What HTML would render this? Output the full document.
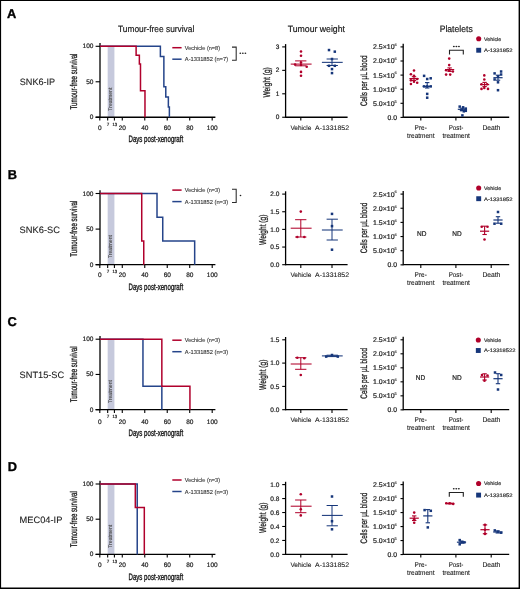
<!DOCTYPE html>
<html><head><meta charset="utf-8"><title>Figure</title>
<style>html,body{margin:0;padding:0;background:#fff;width:520px;height:589px;overflow:hidden}
svg{will-change:transform} svg text{font-family:"Liberation Sans", sans-serif}</style></head>
<body>
<svg width="520" height="589" viewBox="0 0 520 589" style="display:block;font-family:'Liberation Sans', sans-serif" text-rendering="geometricPrecision">
<rect x="0" y="0" width="520" height="589" fill="#fff"/>
<text x="118.00" y="32.30" font-size="9.2" text-anchor="start" font-weight="normal" fill="#1a1a1a" stroke="#1a1a1a" stroke-width="0.2" textLength="76.30" lengthAdjust="spacingAndGlyphs" >Tumour-free survival</text>
<text x="287.70" y="32.40" font-size="9.2" text-anchor="start" font-weight="normal" fill="#1a1a1a" stroke="#1a1a1a" stroke-width="0.2" textLength="57.30" lengthAdjust="spacingAndGlyphs" >Tumour weight</text>
<text x="439.70" y="32.20" font-size="9.2" text-anchor="start" font-weight="normal" fill="#1a1a1a" stroke="#1a1a1a" stroke-width="0.2" textLength="33.00" lengthAdjust="spacingAndGlyphs" >Platelets</text>
<text x="7.05" y="18.10" font-size="12.8" text-anchor="start" font-weight="bold" fill="#000" stroke="#000" stroke-width="0.35" >A</text>
<text x="19.80" y="84.60" font-size="9.2" text-anchor="start" font-weight="normal" fill="#1a1a1a" stroke="#1a1a1a" stroke-width="0.1" textLength="35.40" lengthAdjust="spacingAndGlyphs" >SNK6-IP</text>
<rect x="107.67" y="46.30" width="6.74" height="70.95" fill="#c6c9dc"/>
<text transform="translate(112.40,99.15) rotate(-90)" x="0" y="0" font-size="5.4" text-anchor="middle" font-weight="normal" fill="#4a4a4a" stroke="#4a4a4a" stroke-width="0.12" textLength="23.00" lengthAdjust="spacingAndGlyphs">Treatment</text>
<line x1="100.00" y1="43.10" x2="100.00" y2="117.85" stroke="#000" stroke-width="1.3"/>
<line x1="95.60" y1="117.25" x2="215.40" y2="117.25" stroke="#000" stroke-width="1.3"/>
<line x1="95.60" y1="117.25" x2="100.00" y2="117.25" stroke="#000" stroke-width="1.1"/>
<line x1="95.60" y1="81.78" x2="100.00" y2="81.78" stroke="#000" stroke-width="1.1"/>
<line x1="95.60" y1="46.30" x2="100.00" y2="46.30" stroke="#000" stroke-width="1.1"/>
<line x1="99.80" y1="117.25" x2="99.80" y2="120.45" stroke="#000" stroke-width="1.1"/>
<line x1="107.67" y1="117.25" x2="107.67" y2="120.45" stroke="#000" stroke-width="1.1"/>
<line x1="114.41" y1="117.25" x2="114.41" y2="120.45" stroke="#000" stroke-width="1.1"/>
<line x1="122.28" y1="117.25" x2="122.28" y2="120.45" stroke="#000" stroke-width="1.1"/>
<line x1="144.76" y1="117.25" x2="144.76" y2="120.45" stroke="#000" stroke-width="1.1"/>
<line x1="167.24" y1="117.25" x2="167.24" y2="120.45" stroke="#000" stroke-width="1.1"/>
<line x1="189.72" y1="117.25" x2="189.72" y2="120.45" stroke="#000" stroke-width="1.1"/>
<line x1="212.20" y1="117.25" x2="212.20" y2="120.45" stroke="#000" stroke-width="1.1"/>
<text x="93.40" y="119.25" font-size="6.5" text-anchor="end" font-weight="normal" fill="#1a1a1a" stroke="#1a1a1a" stroke-width="0.2" >0</text>
<text x="93.40" y="83.78" font-size="6.5" text-anchor="end" font-weight="normal" fill="#1a1a1a" stroke="#1a1a1a" stroke-width="0.2" >50</text>
<text x="93.40" y="48.30" font-size="6.5" text-anchor="end" font-weight="normal" fill="#1a1a1a" stroke="#1a1a1a" stroke-width="0.2" >100</text>
<text x="99.90" y="129.50" font-size="6.5" text-anchor="middle" font-weight="normal" fill="#1a1a1a" stroke="#1a1a1a" stroke-width="0.2" >0</text>
<text x="122.38" y="129.50" font-size="6.5" text-anchor="middle" font-weight="normal" fill="#1a1a1a" stroke="#1a1a1a" stroke-width="0.2" >20</text>
<text x="144.86" y="129.50" font-size="6.5" text-anchor="middle" font-weight="normal" fill="#1a1a1a" stroke="#1a1a1a" stroke-width="0.2" >40</text>
<text x="167.34" y="129.50" font-size="6.5" text-anchor="middle" font-weight="normal" fill="#1a1a1a" stroke="#1a1a1a" stroke-width="0.2" >60</text>
<text x="189.82" y="129.50" font-size="6.5" text-anchor="middle" font-weight="normal" fill="#1a1a1a" stroke="#1a1a1a" stroke-width="0.2" >80</text>
<text x="212.30" y="129.50" font-size="6.5" text-anchor="middle" font-weight="normal" fill="#1a1a1a" stroke="#1a1a1a" stroke-width="0.2" >100</text>
<text x="107.97" y="125.75" font-size="4.5" text-anchor="middle" font-weight="normal" fill="#1a1a1a" stroke="#1a1a1a" stroke-width="0.2" >7</text>
<text x="114.81" y="125.75" font-size="4.5" text-anchor="middle" font-weight="normal" fill="#1a1a1a" stroke="#1a1a1a" stroke-width="0.2" textLength="4.60" lengthAdjust="spacingAndGlyphs" >13</text>
<text x="128.50" y="142.35" font-size="9.3" text-anchor="start" font-weight="normal" fill="#1a1a1a" stroke="#1a1a1a" stroke-width="0.38" textLength="54.60" lengthAdjust="spacingAndGlyphs" >Days post-xenograft</text>
<text transform="translate(76.70,81.50) rotate(-90)" x="0" y="0" font-size="9.8" text-anchor="middle" font-weight="normal" fill="#1a1a1a" stroke="#1a1a1a" stroke-width="0.3" textLength="55.90" lengthAdjust="spacingAndGlyphs">Tumour-free survival</text>
<polyline points="100.00,46.30 160.38,46.30 160.38,56.44 163.87,56.44 163.87,86.84 165.78,86.84 165.78,96.98 168.36,96.98 168.36,107.11 169.38,107.11 169.38,117.25" fill="none" stroke="#25448a" stroke-width="1.5" stroke-linejoin="miter" stroke-linecap="butt"/>
<polyline points="100.00,46.30 136.11,46.30 136.11,55.17 139.36,55.17 139.36,64.04 140.49,64.04 140.49,90.64 144.98,90.64 144.98,117.25" fill="none" stroke="#b0002c" stroke-width="1.5" stroke-linejoin="miter" stroke-linecap="butt"/>
<line x1="172.30" y1="47.70" x2="181.60" y2="47.70" stroke="#b0002c" stroke-width="1.5"/>
<line x1="172.30" y1="59.20" x2="181.60" y2="59.20" stroke="#25448a" stroke-width="1.5"/>
<text x="184.80" y="49.70" font-size="5.7" text-anchor="start" font-weight="normal" fill="#333" stroke="#333" stroke-width="0.1" textLength="35.20" lengthAdjust="spacingAndGlyphs" >Vechicle (n=8)</text>
<text x="184.80" y="61.20" font-size="5.7" text-anchor="start" font-weight="normal" fill="#333" stroke="#333" stroke-width="0.1" textLength="43.30" lengthAdjust="spacingAndGlyphs" >A-1331852 (n=7)</text>
<polyline points="232.00,47.10 236.20,47.10 236.20,60.30 232.00,60.30" fill="none" stroke="#2a2a2a" stroke-width="1.05"/>
<ellipse cx="240.30" cy="53.25" rx="0.9" ry="0.72" fill="#222"/>
<ellipse cx="242.85" cy="53.25" rx="0.9" ry="0.72" fill="#222"/>
<ellipse cx="245.40" cy="53.25" rx="0.9" ry="0.72" fill="#222"/>
<line x1="285.60" y1="44.10" x2="285.60" y2="117.85" stroke="#000" stroke-width="1.3"/>
<line x1="285.60" y1="117.25" x2="347.60" y2="117.25" stroke="#000" stroke-width="1.3"/>
<line x1="282.20" y1="46.90" x2="285.60" y2="46.90" stroke="#000" stroke-width="1.1"/>
<text x="279.40" y="49.00" font-size="6.5" text-anchor="end" font-weight="normal" fill="#1a1a1a" stroke="#1a1a1a" stroke-width="0.2" >3</text>
<line x1="282.20" y1="70.35" x2="285.60" y2="70.35" stroke="#000" stroke-width="1.1"/>
<text x="279.40" y="72.45" font-size="6.5" text-anchor="end" font-weight="normal" fill="#1a1a1a" stroke="#1a1a1a" stroke-width="0.2" >2</text>
<line x1="282.20" y1="93.80" x2="285.60" y2="93.80" stroke="#000" stroke-width="1.1"/>
<text x="279.40" y="95.90" font-size="6.5" text-anchor="end" font-weight="normal" fill="#1a1a1a" stroke="#1a1a1a" stroke-width="0.2" >1</text>
<line x1="282.20" y1="117.25" x2="285.60" y2="117.25" stroke="#000" stroke-width="1.1"/>
<text x="279.40" y="119.35" font-size="6.5" text-anchor="end" font-weight="normal" fill="#1a1a1a" stroke="#1a1a1a" stroke-width="0.2" >0</text>
<line x1="300.80" y1="117.25" x2="300.80" y2="120.45" stroke="#000" stroke-width="1.1"/>
<line x1="332.00" y1="117.25" x2="332.00" y2="120.45" stroke="#000" stroke-width="1.1"/>
<text x="290.40" y="129.75" font-size="6.6" text-anchor="start" font-weight="normal" fill="#1a1a1a" stroke="#1a1a1a" stroke-width="0.1" textLength="21.00" lengthAdjust="spacingAndGlyphs" >Vehicle</text>
<text x="315.00" y="129.75" font-size="6.6" text-anchor="start" font-weight="normal" fill="#1a1a1a" stroke="#1a1a1a" stroke-width="0.1" textLength="34.00" lengthAdjust="spacingAndGlyphs" >A-1331852</text>
<text transform="translate(270.00,82.38) rotate(-90)" x="0" y="0" font-size="9.7" text-anchor="middle" font-weight="normal" fill="#1a1a1a" stroke="#1a1a1a" stroke-width="0.28" textLength="30.40" lengthAdjust="spacingAndGlyphs">Weight (g)</text>
<line x1="290.70" y1="64.10" x2="311.60" y2="64.10" stroke="#b0002a" stroke-width="1.05"/>
<line x1="295.10" y1="60.90" x2="306.40" y2="60.90" stroke="#b0002a" stroke-width="1.0"/>
<line x1="295.10" y1="65.80" x2="306.40" y2="65.80" stroke="#b0002a" stroke-width="1.0"/>
<line x1="300.80" y1="60.90" x2="300.80" y2="65.80" stroke="#b0002a" stroke-width="1.0"/>
<circle cx="301.00" cy="51.50" r="1.3" fill="#b0002a"/>
<circle cx="301.00" cy="55.70" r="1.3" fill="#b0002a"/>
<circle cx="301.00" cy="62.50" r="1.3" fill="#b0002a"/>
<circle cx="295.10" cy="64.60" r="1.3" fill="#b0002a"/>
<circle cx="301.00" cy="65.00" r="1.3" fill="#b0002a"/>
<circle cx="306.70" cy="66.70" r="1.3" fill="#b0002a"/>
<circle cx="301.00" cy="71.90" r="1.3" fill="#b0002a"/>
<circle cx="301.00" cy="75.80" r="1.3" fill="#b0002a"/>
<line x1="321.90" y1="62.35" x2="342.70" y2="62.35" stroke="#16367a" stroke-width="1.05"/>
<line x1="326.60" y1="59.00" x2="337.90" y2="59.00" stroke="#16367a" stroke-width="1.0"/>
<line x1="326.60" y1="65.50" x2="337.90" y2="65.50" stroke="#16367a" stroke-width="1.0"/>
<line x1="332.00" y1="59.00" x2="332.00" y2="65.50" stroke="#16367a" stroke-width="1.0"/>
<rect x="327.75" y="48.80" width="2.5" height="2.5" fill="#16367a"/>
<rect x="333.55" y="50.40" width="2.5" height="2.5" fill="#16367a"/>
<rect x="330.75" y="57.75" width="2.5" height="2.5" fill="#16367a"/>
<rect x="327.75" y="64.55" width="2.5" height="2.5" fill="#16367a"/>
<rect x="333.55" y="64.55" width="2.5" height="2.5" fill="#16367a"/>
<rect x="330.75" y="67.85" width="2.5" height="2.5" fill="#16367a"/>
<rect x="330.75" y="71.85" width="2.5" height="2.5" fill="#16367a"/>
<line x1="403.20" y1="43.80" x2="403.20" y2="117.85" stroke="#000" stroke-width="1.3"/>
<line x1="403.20" y1="117.25" x2="509.20" y2="117.25" stroke="#000" stroke-width="1.3"/>
<line x1="400.50" y1="46.90" x2="403.20" y2="46.90" stroke="#000" stroke-width="1.1"/>
<text x="373.00" y="49.30" font-size="6.8" text-anchor="start" font-weight="normal" fill="#1a1a1a" stroke="#1a1a1a" stroke-width="0.2" textLength="21.60" lengthAdjust="spacingAndGlyphs" >2.5×10</text>
<text x="394.60" y="46.20" font-size="3.9" text-anchor="start" font-weight="normal" fill="#1a1a1a" stroke="#1a1a1a" stroke-width="0.08" >6</text>
<line x1="400.50" y1="61.00" x2="403.20" y2="61.00" stroke="#000" stroke-width="1.1"/>
<text x="373.00" y="63.40" font-size="6.8" text-anchor="start" font-weight="normal" fill="#1a1a1a" stroke="#1a1a1a" stroke-width="0.2" textLength="21.60" lengthAdjust="spacingAndGlyphs" >2.0×10</text>
<text x="394.60" y="60.30" font-size="3.9" text-anchor="start" font-weight="normal" fill="#1a1a1a" stroke="#1a1a1a" stroke-width="0.08" >6</text>
<line x1="400.50" y1="75.10" x2="403.20" y2="75.10" stroke="#000" stroke-width="1.1"/>
<text x="373.00" y="77.50" font-size="6.8" text-anchor="start" font-weight="normal" fill="#1a1a1a" stroke="#1a1a1a" stroke-width="0.2" textLength="21.60" lengthAdjust="spacingAndGlyphs" >1.5×10</text>
<text x="394.60" y="74.40" font-size="3.9" text-anchor="start" font-weight="normal" fill="#1a1a1a" stroke="#1a1a1a" stroke-width="0.08" >6</text>
<line x1="400.50" y1="89.20" x2="403.20" y2="89.20" stroke="#000" stroke-width="1.1"/>
<text x="373.00" y="91.60" font-size="6.8" text-anchor="start" font-weight="normal" fill="#1a1a1a" stroke="#1a1a1a" stroke-width="0.2" textLength="21.60" lengthAdjust="spacingAndGlyphs" >1.0×10</text>
<text x="394.60" y="88.50" font-size="3.9" text-anchor="start" font-weight="normal" fill="#1a1a1a" stroke="#1a1a1a" stroke-width="0.08" >6</text>
<line x1="400.50" y1="103.30" x2="403.20" y2="103.30" stroke="#000" stroke-width="1.1"/>
<text x="373.00" y="105.70" font-size="6.8" text-anchor="start" font-weight="normal" fill="#1a1a1a" stroke="#1a1a1a" stroke-width="0.2" textLength="21.60" lengthAdjust="spacingAndGlyphs" >5.0×10</text>
<text x="394.60" y="102.60" font-size="3.9" text-anchor="start" font-weight="normal" fill="#1a1a1a" stroke="#1a1a1a" stroke-width="0.08" >5</text>
<line x1="400.50" y1="117.40" x2="403.20" y2="117.40" stroke="#000" stroke-width="1.1"/>
<text x="397.00" y="119.80" font-size="6.8" text-anchor="end" font-weight="normal" fill="#1a1a1a" stroke="#1a1a1a" stroke-width="0.2" >0.0</text>
<line x1="420.80" y1="117.25" x2="420.80" y2="120.45" stroke="#000" stroke-width="1.1"/>
<line x1="455.90" y1="117.25" x2="455.90" y2="120.45" stroke="#000" stroke-width="1.1"/>
<line x1="491.20" y1="117.25" x2="491.20" y2="120.45" stroke="#000" stroke-width="1.1"/>
<text x="420.70" y="130.00" font-size="6.9" text-anchor="middle" font-weight="normal" fill="#1a1a1a" stroke="#1a1a1a" stroke-width="0.1" textLength="12.20" lengthAdjust="spacingAndGlyphs" >Pre-</text>
<text x="420.80" y="137.70" font-size="6.9" text-anchor="middle" font-weight="normal" fill="#1a1a1a" stroke="#1a1a1a" stroke-width="0.1" textLength="27.40" lengthAdjust="spacingAndGlyphs" >treatment</text>
<text x="456.00" y="130.00" font-size="6.9" text-anchor="middle" font-weight="normal" fill="#1a1a1a" stroke="#1a1a1a" stroke-width="0.1" textLength="14.60" lengthAdjust="spacingAndGlyphs" >Post-</text>
<text x="456.15" y="137.70" font-size="6.9" text-anchor="middle" font-weight="normal" fill="#1a1a1a" stroke="#1a1a1a" stroke-width="0.1" textLength="27.40" lengthAdjust="spacingAndGlyphs" >treatment</text>
<text x="491.40" y="130.00" font-size="6.9" text-anchor="middle" font-weight="normal" fill="#1a1a1a" stroke="#1a1a1a" stroke-width="0.1" textLength="17.90" lengthAdjust="spacingAndGlyphs" >Death</text>
<text transform="translate(367.00,80.68) rotate(-90)" x="0" y="0" font-size="9.4" text-anchor="middle" font-weight="normal" fill="#1a1a1a" stroke="#1a1a1a" stroke-width="0.28" textLength="50.60" lengthAdjust="spacingAndGlyphs">Cells per µL blood</text>
<circle cx="478.70" cy="38.80" r="2.55" fill="#b0002a"/>
<rect x="476.25" y="47.80" width="4.9" height="4.9" fill="#16367a"/>
<text x="484.00" y="40.70" font-size="5.0" text-anchor="start" font-weight="normal" fill="#333" stroke="#333" stroke-width="0.2" textLength="17.20" lengthAdjust="spacingAndGlyphs" >Vehicle</text>
<text x="484.00" y="52.15" font-size="5.0" text-anchor="start" font-weight="normal" fill="#333" stroke="#333" stroke-width="0.2" textLength="28.60" lengthAdjust="spacingAndGlyphs" >A-1331852</text>
<line x1="409.40" y1="78.60" x2="418.60" y2="78.60" stroke="#b0002a" stroke-width="1.2"/>
<line x1="411.80" y1="76.70" x2="416.20" y2="76.70" stroke="#b0002a" stroke-width="1.1"/>
<line x1="411.80" y1="80.40" x2="416.20" y2="80.40" stroke="#b0002a" stroke-width="1.1"/>
<line x1="414.00" y1="76.70" x2="414.00" y2="80.40" stroke="#b0002a" stroke-width="1.1"/>
<circle cx="414.00" cy="70.45" r="1.3" fill="#b0002a"/>
<circle cx="410.90" cy="74.30" r="1.3" fill="#b0002a"/>
<circle cx="414.00" cy="75.85" r="1.3" fill="#b0002a"/>
<circle cx="417.20" cy="79.00" r="1.3" fill="#b0002a"/>
<circle cx="410.90" cy="80.35" r="1.3" fill="#b0002a"/>
<circle cx="414.00" cy="81.70" r="1.3" fill="#b0002a"/>
<circle cx="410.90" cy="84.00" r="1.3" fill="#b0002a"/>
<circle cx="417.20" cy="82.80" r="1.3" fill="#b0002a"/>
<line x1="422.60" y1="86.40" x2="431.80" y2="86.40" stroke="#16367a" stroke-width="1.2"/>
<line x1="425.00" y1="82.60" x2="429.40" y2="82.60" stroke="#16367a" stroke-width="1.1"/>
<line x1="425.00" y1="88.00" x2="429.40" y2="88.00" stroke="#16367a" stroke-width="1.1"/>
<line x1="427.20" y1="82.60" x2="427.20" y2="88.00" stroke="#16367a" stroke-width="1.1"/>
<rect x="422.85" y="74.60" width="2.5" height="2.5" fill="#16367a"/>
<rect x="425.95" y="77.75" width="2.5" height="2.5" fill="#16367a"/>
<rect x="429.45" y="77.05" width="2.5" height="2.5" fill="#16367a"/>
<rect x="422.85" y="85.15" width="2.5" height="2.5" fill="#16367a"/>
<rect x="429.45" y="85.15" width="2.5" height="2.5" fill="#16367a"/>
<rect x="425.95" y="85.15" width="2.5" height="2.5" fill="#16367a"/>
<rect x="425.95" y="92.65" width="2.5" height="2.5" fill="#16367a"/>
<rect x="425.95" y="96.45" width="2.5" height="2.5" fill="#16367a"/>
<line x1="445.00" y1="69.60" x2="454.20" y2="69.60" stroke="#b0002a" stroke-width="1.2"/>
<line x1="447.40" y1="67.90" x2="451.80" y2="67.90" stroke="#b0002a" stroke-width="1.1"/>
<line x1="447.40" y1="71.40" x2="451.80" y2="71.40" stroke="#b0002a" stroke-width="1.1"/>
<line x1="449.60" y1="67.90" x2="449.60" y2="71.40" stroke="#b0002a" stroke-width="1.1"/>
<circle cx="449.20" cy="58.60" r="1.3" fill="#b0002a"/>
<circle cx="449.20" cy="65.10" r="1.3" fill="#b0002a"/>
<circle cx="446.10" cy="70.20" r="1.3" fill="#b0002a"/>
<circle cx="449.20" cy="70.20" r="1.3" fill="#b0002a"/>
<circle cx="452.90" cy="71.50" r="1.3" fill="#b0002a"/>
<circle cx="446.10" cy="74.60" r="1.3" fill="#b0002a"/>
<circle cx="450.20" cy="74.60" r="1.3" fill="#b0002a"/>
<line x1="457.80" y1="109.30" x2="467.00" y2="109.30" stroke="#16367a" stroke-width="1.2"/>
<line x1="460.20" y1="108.20" x2="464.60" y2="108.20" stroke="#16367a" stroke-width="1.1"/>
<line x1="460.20" y1="110.60" x2="464.60" y2="110.60" stroke="#16367a" stroke-width="1.1"/>
<line x1="462.40" y1="108.20" x2="462.40" y2="110.60" stroke="#16367a" stroke-width="1.1"/>
<rect x="458.45" y="105.35" width="2.5" height="2.5" fill="#16367a"/>
<rect x="461.85" y="106.05" width="2.5" height="2.5" fill="#16367a"/>
<rect x="464.55" y="107.35" width="2.5" height="2.5" fill="#16367a"/>
<rect x="459.85" y="108.75" width="2.5" height="2.5" fill="#16367a"/>
<rect x="462.55" y="110.05" width="2.5" height="2.5" fill="#16367a"/>
<rect x="461.15" y="114.15" width="2.5" height="2.5" fill="#16367a"/>
<rect x="464.55" y="109.55" width="2.5" height="2.5" fill="#16367a"/>
<line x1="480.00" y1="84.60" x2="489.20" y2="84.60" stroke="#b0002a" stroke-width="1.2"/>
<line x1="482.40" y1="82.40" x2="486.80" y2="82.40" stroke="#b0002a" stroke-width="1.1"/>
<line x1="482.40" y1="86.60" x2="486.80" y2="86.60" stroke="#b0002a" stroke-width="1.1"/>
<line x1="484.60" y1="82.40" x2="484.60" y2="86.60" stroke="#b0002a" stroke-width="1.1"/>
<circle cx="484.30" cy="75.40" r="1.3" fill="#b0002a"/>
<circle cx="484.30" cy="79.50" r="1.3" fill="#b0002a"/>
<circle cx="481.50" cy="84.20" r="1.3" fill="#b0002a"/>
<circle cx="487.10" cy="84.20" r="1.3" fill="#b0002a"/>
<circle cx="481.50" cy="88.90" r="1.3" fill="#b0002a"/>
<circle cx="484.30" cy="88.00" r="1.3" fill="#b0002a"/>
<circle cx="488.00" cy="88.90" r="1.3" fill="#b0002a"/>
<line x1="493.40" y1="77.70" x2="502.60" y2="77.70" stroke="#16367a" stroke-width="1.2"/>
<line x1="495.80" y1="75.20" x2="500.20" y2="75.20" stroke="#16367a" stroke-width="1.1"/>
<line x1="495.80" y1="80.20" x2="500.20" y2="80.20" stroke="#16367a" stroke-width="1.1"/>
<line x1="498.00" y1="75.20" x2="498.00" y2="80.20" stroke="#16367a" stroke-width="1.1"/>
<rect x="493.35" y="72.15" width="2.5" height="2.5" fill="#16367a"/>
<rect x="499.85" y="70.25" width="2.5" height="2.5" fill="#16367a"/>
<rect x="499.85" y="73.25" width="2.5" height="2.5" fill="#16367a"/>
<rect x="496.75" y="75.15" width="2.5" height="2.5" fill="#16367a"/>
<rect x="493.35" y="78.25" width="2.5" height="2.5" fill="#16367a"/>
<rect x="496.75" y="81.05" width="2.5" height="2.5" fill="#16367a"/>
<rect x="496.75" y="88.95" width="2.5" height="2.5" fill="#16367a"/>
<polyline points="449.50,54.60 449.50,50.30 463.30,50.30 463.30,54.60" fill="none" stroke="#222" stroke-width="1.1"/>
<ellipse cx="453.85" cy="46.50" rx="0.95" ry="0.8" fill="#222"/>
<ellipse cx="456.40" cy="46.50" rx="0.95" ry="0.8" fill="#222"/>
<ellipse cx="458.95" cy="46.50" rx="0.95" ry="0.8" fill="#222"/>
<text x="7.85" y="178.80" font-size="12.8" text-anchor="start" font-weight="bold" fill="#000" stroke="#000" stroke-width="0.35" >B</text>
<text x="19.60" y="232.50" font-size="9.2" text-anchor="start" font-weight="normal" fill="#1a1a1a" stroke="#1a1a1a" stroke-width="0.1" textLength="40.30" lengthAdjust="spacingAndGlyphs" >SNK6-SC</text>
<rect x="107.67" y="193.50" width="6.74" height="71.20" fill="#c6c9dc"/>
<text transform="translate(112.40,246.60) rotate(-90)" x="0" y="0" font-size="5.4" text-anchor="middle" font-weight="normal" fill="#4a4a4a" stroke="#4a4a4a" stroke-width="0.12" textLength="23.00" lengthAdjust="spacingAndGlyphs">Treatment</text>
<line x1="100.00" y1="190.30" x2="100.00" y2="265.30" stroke="#000" stroke-width="1.3"/>
<line x1="95.60" y1="264.70" x2="215.40" y2="264.70" stroke="#000" stroke-width="1.3"/>
<line x1="95.60" y1="264.70" x2="100.00" y2="264.70" stroke="#000" stroke-width="1.1"/>
<line x1="95.60" y1="229.10" x2="100.00" y2="229.10" stroke="#000" stroke-width="1.1"/>
<line x1="95.60" y1="193.50" x2="100.00" y2="193.50" stroke="#000" stroke-width="1.1"/>
<line x1="99.80" y1="264.70" x2="99.80" y2="267.90" stroke="#000" stroke-width="1.1"/>
<line x1="107.67" y1="264.70" x2="107.67" y2="267.90" stroke="#000" stroke-width="1.1"/>
<line x1="114.41" y1="264.70" x2="114.41" y2="267.90" stroke="#000" stroke-width="1.1"/>
<line x1="122.28" y1="264.70" x2="122.28" y2="267.90" stroke="#000" stroke-width="1.1"/>
<line x1="144.76" y1="264.70" x2="144.76" y2="267.90" stroke="#000" stroke-width="1.1"/>
<line x1="167.24" y1="264.70" x2="167.24" y2="267.90" stroke="#000" stroke-width="1.1"/>
<line x1="189.72" y1="264.70" x2="189.72" y2="267.90" stroke="#000" stroke-width="1.1"/>
<line x1="212.20" y1="264.70" x2="212.20" y2="267.90" stroke="#000" stroke-width="1.1"/>
<text x="93.40" y="266.70" font-size="6.5" text-anchor="end" font-weight="normal" fill="#1a1a1a" stroke="#1a1a1a" stroke-width="0.2" >0</text>
<text x="93.40" y="231.10" font-size="6.5" text-anchor="end" font-weight="normal" fill="#1a1a1a" stroke="#1a1a1a" stroke-width="0.2" >50</text>
<text x="93.40" y="195.50" font-size="6.5" text-anchor="end" font-weight="normal" fill="#1a1a1a" stroke="#1a1a1a" stroke-width="0.2" >100</text>
<text x="99.90" y="276.90" font-size="6.5" text-anchor="middle" font-weight="normal" fill="#1a1a1a" stroke="#1a1a1a" stroke-width="0.2" >0</text>
<text x="122.38" y="276.90" font-size="6.5" text-anchor="middle" font-weight="normal" fill="#1a1a1a" stroke="#1a1a1a" stroke-width="0.2" >20</text>
<text x="144.86" y="276.90" font-size="6.5" text-anchor="middle" font-weight="normal" fill="#1a1a1a" stroke="#1a1a1a" stroke-width="0.2" >40</text>
<text x="167.34" y="276.90" font-size="6.5" text-anchor="middle" font-weight="normal" fill="#1a1a1a" stroke="#1a1a1a" stroke-width="0.2" >60</text>
<text x="189.82" y="276.90" font-size="6.5" text-anchor="middle" font-weight="normal" fill="#1a1a1a" stroke="#1a1a1a" stroke-width="0.2" >80</text>
<text x="212.30" y="276.90" font-size="6.5" text-anchor="middle" font-weight="normal" fill="#1a1a1a" stroke="#1a1a1a" stroke-width="0.2" >100</text>
<text x="107.97" y="273.20" font-size="4.5" text-anchor="middle" font-weight="normal" fill="#1a1a1a" stroke="#1a1a1a" stroke-width="0.2" >7</text>
<text x="114.81" y="273.20" font-size="4.5" text-anchor="middle" font-weight="normal" fill="#1a1a1a" stroke="#1a1a1a" stroke-width="0.2" textLength="4.60" lengthAdjust="spacingAndGlyphs" >13</text>
<text x="128.50" y="290.00" font-size="9.3" text-anchor="start" font-weight="normal" fill="#1a1a1a" stroke="#1a1a1a" stroke-width="0.38" textLength="54.60" lengthAdjust="spacingAndGlyphs" >Days post-xenograft</text>
<text transform="translate(76.70,228.70) rotate(-90)" x="0" y="0" font-size="9.8" text-anchor="middle" font-weight="normal" fill="#1a1a1a" stroke="#1a1a1a" stroke-width="0.3" textLength="55.90" lengthAdjust="spacingAndGlyphs">Tumour-free survival</text>
<polyline points="100.00,193.50 157.01,193.50 157.01,217.23 162.74,217.23 162.74,240.97 194.67,240.97 194.67,264.70" fill="none" stroke="#25448a" stroke-width="1.5" stroke-linejoin="miter" stroke-linecap="butt"/>
<polyline points="100.00,193.50 141.73,193.50 141.73,240.97 143.75,240.97 143.75,264.70" fill="none" stroke="#b0002c" stroke-width="1.5" stroke-linejoin="miter" stroke-linecap="butt"/>
<line x1="172.30" y1="190.10" x2="181.60" y2="190.10" stroke="#b0002c" stroke-width="1.5"/>
<line x1="172.30" y1="201.60" x2="181.60" y2="201.60" stroke="#25448a" stroke-width="1.5"/>
<text x="184.80" y="192.10" font-size="5.7" text-anchor="start" font-weight="normal" fill="#333" stroke="#333" stroke-width="0.1" textLength="35.20" lengthAdjust="spacingAndGlyphs" >Vechicle (n=3)</text>
<text x="184.80" y="203.60" font-size="5.7" text-anchor="start" font-weight="normal" fill="#333" stroke="#333" stroke-width="0.1" textLength="43.30" lengthAdjust="spacingAndGlyphs" >A-1331852 (n=3)</text>
<polyline points="232.00,189.30 236.20,189.30 236.20,202.50 232.00,202.50" fill="none" stroke="#2a2a2a" stroke-width="1.05"/>
<ellipse cx="240.5" cy="195.5" rx="0.85" ry="0.8" fill="#222"/>
<line x1="285.60" y1="191.30" x2="285.60" y2="265.30" stroke="#000" stroke-width="1.3"/>
<line x1="285.60" y1="264.70" x2="347.60" y2="264.70" stroke="#000" stroke-width="1.3"/>
<line x1="282.20" y1="194.10" x2="285.60" y2="194.10" stroke="#000" stroke-width="1.1"/>
<text x="279.40" y="196.20" font-size="6.5" text-anchor="end" font-weight="normal" fill="#1a1a1a" stroke="#1a1a1a" stroke-width="0.2" >2.0</text>
<line x1="282.20" y1="211.75" x2="285.60" y2="211.75" stroke="#000" stroke-width="1.1"/>
<text x="279.40" y="213.85" font-size="6.5" text-anchor="end" font-weight="normal" fill="#1a1a1a" stroke="#1a1a1a" stroke-width="0.2" >1.5</text>
<line x1="282.20" y1="229.40" x2="285.60" y2="229.40" stroke="#000" stroke-width="1.1"/>
<text x="279.40" y="231.50" font-size="6.5" text-anchor="end" font-weight="normal" fill="#1a1a1a" stroke="#1a1a1a" stroke-width="0.2" >1.0</text>
<line x1="282.20" y1="247.05" x2="285.60" y2="247.05" stroke="#000" stroke-width="1.1"/>
<text x="279.40" y="249.15" font-size="6.5" text-anchor="end" font-weight="normal" fill="#1a1a1a" stroke="#1a1a1a" stroke-width="0.2" >0.5</text>
<line x1="282.20" y1="264.70" x2="285.60" y2="264.70" stroke="#000" stroke-width="1.1"/>
<text x="279.40" y="266.80" font-size="6.5" text-anchor="end" font-weight="normal" fill="#1a1a1a" stroke="#1a1a1a" stroke-width="0.2" >0.0</text>
<line x1="300.80" y1="264.70" x2="300.80" y2="267.90" stroke="#000" stroke-width="1.1"/>
<line x1="332.00" y1="264.70" x2="332.00" y2="267.90" stroke="#000" stroke-width="1.1"/>
<text x="290.40" y="277.20" font-size="6.6" text-anchor="start" font-weight="normal" fill="#1a1a1a" stroke="#1a1a1a" stroke-width="0.1" textLength="21.00" lengthAdjust="spacingAndGlyphs" >Vehicle</text>
<text x="315.00" y="277.20" font-size="6.6" text-anchor="start" font-weight="normal" fill="#1a1a1a" stroke="#1a1a1a" stroke-width="0.1" textLength="34.00" lengthAdjust="spacingAndGlyphs" >A-1331852</text>
<text transform="translate(266.20,229.80) rotate(-90)" x="0" y="0" font-size="9.7" text-anchor="middle" font-weight="normal" fill="#1a1a1a" stroke="#1a1a1a" stroke-width="0.28" textLength="30.40" lengthAdjust="spacingAndGlyphs">Weight (g)</text>
<line x1="290.70" y1="228.20" x2="311.60" y2="228.20" stroke="#b0002a" stroke-width="1.05"/>
<line x1="295.10" y1="219.70" x2="306.40" y2="219.70" stroke="#b0002a" stroke-width="1.0"/>
<line x1="295.10" y1="237.00" x2="306.40" y2="237.00" stroke="#b0002a" stroke-width="1.0"/>
<line x1="300.80" y1="219.70" x2="300.80" y2="237.00" stroke="#b0002a" stroke-width="1.0"/>
<circle cx="300.80" cy="211.60" r="1.3" fill="#b0002a"/>
<circle cx="297.30" cy="237.00" r="1.3" fill="#b0002a"/>
<circle cx="304.30" cy="237.00" r="1.3" fill="#b0002a"/>
<line x1="321.90" y1="230.00" x2="342.70" y2="230.00" stroke="#16367a" stroke-width="1.05"/>
<line x1="326.60" y1="219.20" x2="337.90" y2="219.20" stroke="#16367a" stroke-width="1.0"/>
<line x1="326.60" y1="240.00" x2="337.90" y2="240.00" stroke="#16367a" stroke-width="1.0"/>
<line x1="332.00" y1="219.20" x2="332.00" y2="240.00" stroke="#16367a" stroke-width="1.0"/>
<rect x="330.75" y="212.65" width="2.5" height="2.5" fill="#16367a"/>
<rect x="330.75" y="224.85" width="2.5" height="2.5" fill="#16367a"/>
<rect x="330.75" y="248.45" width="2.5" height="2.5" fill="#16367a"/>
<line x1="403.20" y1="191.00" x2="403.20" y2="265.30" stroke="#000" stroke-width="1.3"/>
<line x1="403.20" y1="264.70" x2="509.20" y2="264.70" stroke="#000" stroke-width="1.3"/>
<line x1="400.50" y1="194.10" x2="403.20" y2="194.10" stroke="#000" stroke-width="1.1"/>
<text x="373.00" y="196.50" font-size="6.8" text-anchor="start" font-weight="normal" fill="#1a1a1a" stroke="#1a1a1a" stroke-width="0.2" textLength="21.60" lengthAdjust="spacingAndGlyphs" >2.5×10</text>
<text x="394.60" y="193.40" font-size="3.9" text-anchor="start" font-weight="normal" fill="#1a1a1a" stroke="#1a1a1a" stroke-width="0.08" >6</text>
<line x1="400.50" y1="208.25" x2="403.20" y2="208.25" stroke="#000" stroke-width="1.1"/>
<text x="373.00" y="210.65" font-size="6.8" text-anchor="start" font-weight="normal" fill="#1a1a1a" stroke="#1a1a1a" stroke-width="0.2" textLength="21.60" lengthAdjust="spacingAndGlyphs" >2.0×10</text>
<text x="394.60" y="207.55" font-size="3.9" text-anchor="start" font-weight="normal" fill="#1a1a1a" stroke="#1a1a1a" stroke-width="0.08" >6</text>
<line x1="400.50" y1="222.40" x2="403.20" y2="222.40" stroke="#000" stroke-width="1.1"/>
<text x="373.00" y="224.80" font-size="6.8" text-anchor="start" font-weight="normal" fill="#1a1a1a" stroke="#1a1a1a" stroke-width="0.2" textLength="21.60" lengthAdjust="spacingAndGlyphs" >1.5×10</text>
<text x="394.60" y="221.70" font-size="3.9" text-anchor="start" font-weight="normal" fill="#1a1a1a" stroke="#1a1a1a" stroke-width="0.08" >6</text>
<line x1="400.50" y1="236.55" x2="403.20" y2="236.55" stroke="#000" stroke-width="1.1"/>
<text x="373.00" y="238.95" font-size="6.8" text-anchor="start" font-weight="normal" fill="#1a1a1a" stroke="#1a1a1a" stroke-width="0.2" textLength="21.60" lengthAdjust="spacingAndGlyphs" >1.0×10</text>
<text x="394.60" y="235.85" font-size="3.9" text-anchor="start" font-weight="normal" fill="#1a1a1a" stroke="#1a1a1a" stroke-width="0.08" >6</text>
<line x1="400.50" y1="250.70" x2="403.20" y2="250.70" stroke="#000" stroke-width="1.1"/>
<text x="373.00" y="253.10" font-size="6.8" text-anchor="start" font-weight="normal" fill="#1a1a1a" stroke="#1a1a1a" stroke-width="0.2" textLength="21.60" lengthAdjust="spacingAndGlyphs" >5.0×10</text>
<text x="394.60" y="250.00" font-size="3.9" text-anchor="start" font-weight="normal" fill="#1a1a1a" stroke="#1a1a1a" stroke-width="0.08" >5</text>
<line x1="400.50" y1="264.85" x2="403.20" y2="264.85" stroke="#000" stroke-width="1.1"/>
<text x="397.00" y="267.25" font-size="6.8" text-anchor="end" font-weight="normal" fill="#1a1a1a" stroke="#1a1a1a" stroke-width="0.2" >0.0</text>
<line x1="420.80" y1="264.70" x2="420.80" y2="267.90" stroke="#000" stroke-width="1.1"/>
<line x1="455.90" y1="264.70" x2="455.90" y2="267.90" stroke="#000" stroke-width="1.1"/>
<line x1="491.20" y1="264.70" x2="491.20" y2="267.90" stroke="#000" stroke-width="1.1"/>
<text x="420.70" y="277.45" font-size="6.9" text-anchor="middle" font-weight="normal" fill="#1a1a1a" stroke="#1a1a1a" stroke-width="0.1" textLength="12.20" lengthAdjust="spacingAndGlyphs" >Pre-</text>
<text x="420.80" y="285.15" font-size="6.9" text-anchor="middle" font-weight="normal" fill="#1a1a1a" stroke="#1a1a1a" stroke-width="0.1" textLength="27.40" lengthAdjust="spacingAndGlyphs" >treatment</text>
<text x="456.00" y="277.45" font-size="6.9" text-anchor="middle" font-weight="normal" fill="#1a1a1a" stroke="#1a1a1a" stroke-width="0.1" textLength="14.60" lengthAdjust="spacingAndGlyphs" >Post-</text>
<text x="456.15" y="285.15" font-size="6.9" text-anchor="middle" font-weight="normal" fill="#1a1a1a" stroke="#1a1a1a" stroke-width="0.1" textLength="27.40" lengthAdjust="spacingAndGlyphs" >treatment</text>
<text x="491.40" y="277.45" font-size="6.9" text-anchor="middle" font-weight="normal" fill="#1a1a1a" stroke="#1a1a1a" stroke-width="0.1" textLength="17.90" lengthAdjust="spacingAndGlyphs" >Death</text>
<text transform="translate(367.00,228.00) rotate(-90)" x="0" y="0" font-size="9.4" text-anchor="middle" font-weight="normal" fill="#1a1a1a" stroke="#1a1a1a" stroke-width="0.28" textLength="50.60" lengthAdjust="spacingAndGlyphs">Cells per µL blood</text>
<circle cx="478.70" cy="188.00" r="2.55" fill="#b0002a"/>
<rect x="476.25" y="196.25" width="4.9" height="4.9" fill="#16367a"/>
<text x="484.00" y="189.90" font-size="5.0" text-anchor="start" font-weight="normal" fill="#333" stroke="#333" stroke-width="0.2" textLength="17.20" lengthAdjust="spacingAndGlyphs" >Vehicle</text>
<text x="484.00" y="200.60" font-size="5.0" text-anchor="start" font-weight="normal" fill="#333" stroke="#333" stroke-width="0.2" textLength="28.60" lengthAdjust="spacingAndGlyphs" >A-1331852</text>
<text x="421.80" y="235.60" font-size="7.0" text-anchor="middle" font-weight="normal" fill="#1a1a1a" stroke="#1a1a1a" stroke-width="0.2" textLength="9.40" lengthAdjust="spacingAndGlyphs" >ND</text>
<text x="457.00" y="235.60" font-size="7.0" text-anchor="middle" font-weight="normal" fill="#1a1a1a" stroke="#1a1a1a" stroke-width="0.2" textLength="9.40" lengthAdjust="spacingAndGlyphs" >ND</text>
<line x1="480.00" y1="231.20" x2="489.20" y2="231.20" stroke="#b0002a" stroke-width="1.2"/>
<line x1="482.40" y1="226.20" x2="486.80" y2="226.20" stroke="#b0002a" stroke-width="1.1"/>
<line x1="482.40" y1="234.50" x2="486.80" y2="234.50" stroke="#b0002a" stroke-width="1.1"/>
<line x1="484.60" y1="226.20" x2="484.60" y2="234.50" stroke="#b0002a" stroke-width="1.1"/>
<circle cx="481.70" cy="226.70" r="1.3" fill="#b0002a"/>
<circle cx="487.50" cy="226.70" r="1.3" fill="#b0002a"/>
<circle cx="484.50" cy="239.50" r="1.3" fill="#b0002a"/>
<line x1="493.40" y1="220.00" x2="502.60" y2="220.00" stroke="#16367a" stroke-width="1.2"/>
<line x1="495.80" y1="216.70" x2="500.20" y2="216.70" stroke="#16367a" stroke-width="1.1"/>
<line x1="495.80" y1="223.20" x2="500.20" y2="223.20" stroke="#16367a" stroke-width="1.1"/>
<line x1="498.00" y1="216.70" x2="498.00" y2="223.20" stroke="#16367a" stroke-width="1.1"/>
<rect x="496.75" y="210.75" width="2.5" height="2.5" fill="#16367a"/>
<rect x="493.25" y="222.45" width="2.5" height="2.5" fill="#16367a"/>
<rect x="499.95" y="222.45" width="2.5" height="2.5" fill="#16367a"/>
<text x="7.45" y="326.40" font-size="12.8" text-anchor="start" font-weight="bold" fill="#000" stroke="#000" stroke-width="0.35" >C</text>
<text x="19.60" y="378.00" font-size="9.2" text-anchor="start" font-weight="normal" fill="#1a1a1a" stroke="#1a1a1a" stroke-width="0.1" textLength="44.60" lengthAdjust="spacingAndGlyphs" >SNT15-SC</text>
<rect x="107.67" y="339.20" width="6.74" height="70.50" fill="#c6c9dc"/>
<text transform="translate(112.40,391.60) rotate(-90)" x="0" y="0" font-size="5.4" text-anchor="middle" font-weight="normal" fill="#4a4a4a" stroke="#4a4a4a" stroke-width="0.12" textLength="23.00" lengthAdjust="spacingAndGlyphs">Treatment</text>
<line x1="100.00" y1="336.00" x2="100.00" y2="410.30" stroke="#000" stroke-width="1.3"/>
<line x1="95.60" y1="409.70" x2="215.40" y2="409.70" stroke="#000" stroke-width="1.3"/>
<line x1="95.60" y1="409.70" x2="100.00" y2="409.70" stroke="#000" stroke-width="1.1"/>
<line x1="95.60" y1="374.45" x2="100.00" y2="374.45" stroke="#000" stroke-width="1.1"/>
<line x1="95.60" y1="339.20" x2="100.00" y2="339.20" stroke="#000" stroke-width="1.1"/>
<line x1="99.80" y1="409.70" x2="99.80" y2="412.90" stroke="#000" stroke-width="1.1"/>
<line x1="107.67" y1="409.70" x2="107.67" y2="412.90" stroke="#000" stroke-width="1.1"/>
<line x1="114.41" y1="409.70" x2="114.41" y2="412.90" stroke="#000" stroke-width="1.1"/>
<line x1="122.28" y1="409.70" x2="122.28" y2="412.90" stroke="#000" stroke-width="1.1"/>
<line x1="144.76" y1="409.70" x2="144.76" y2="412.90" stroke="#000" stroke-width="1.1"/>
<line x1="167.24" y1="409.70" x2="167.24" y2="412.90" stroke="#000" stroke-width="1.1"/>
<line x1="189.72" y1="409.70" x2="189.72" y2="412.90" stroke="#000" stroke-width="1.1"/>
<line x1="212.20" y1="409.70" x2="212.20" y2="412.90" stroke="#000" stroke-width="1.1"/>
<text x="93.40" y="411.70" font-size="6.5" text-anchor="end" font-weight="normal" fill="#1a1a1a" stroke="#1a1a1a" stroke-width="0.2" >0</text>
<text x="93.40" y="376.45" font-size="6.5" text-anchor="end" font-weight="normal" fill="#1a1a1a" stroke="#1a1a1a" stroke-width="0.2" >50</text>
<text x="93.40" y="341.20" font-size="6.5" text-anchor="end" font-weight="normal" fill="#1a1a1a" stroke="#1a1a1a" stroke-width="0.2" >100</text>
<text x="99.90" y="423.70" font-size="6.5" text-anchor="middle" font-weight="normal" fill="#1a1a1a" stroke="#1a1a1a" stroke-width="0.2" >0</text>
<text x="122.38" y="423.70" font-size="6.5" text-anchor="middle" font-weight="normal" fill="#1a1a1a" stroke="#1a1a1a" stroke-width="0.2" >20</text>
<text x="144.86" y="423.70" font-size="6.5" text-anchor="middle" font-weight="normal" fill="#1a1a1a" stroke="#1a1a1a" stroke-width="0.2" >40</text>
<text x="167.34" y="423.70" font-size="6.5" text-anchor="middle" font-weight="normal" fill="#1a1a1a" stroke="#1a1a1a" stroke-width="0.2" >60</text>
<text x="189.82" y="423.70" font-size="6.5" text-anchor="middle" font-weight="normal" fill="#1a1a1a" stroke="#1a1a1a" stroke-width="0.2" >80</text>
<text x="212.30" y="423.70" font-size="6.5" text-anchor="middle" font-weight="normal" fill="#1a1a1a" stroke="#1a1a1a" stroke-width="0.2" >100</text>
<text x="107.97" y="418.20" font-size="4.5" text-anchor="middle" font-weight="normal" fill="#1a1a1a" stroke="#1a1a1a" stroke-width="0.2" >7</text>
<text x="114.81" y="418.20" font-size="4.5" text-anchor="middle" font-weight="normal" fill="#1a1a1a" stroke="#1a1a1a" stroke-width="0.2" textLength="4.60" lengthAdjust="spacingAndGlyphs" >13</text>
<text x="128.50" y="435.70" font-size="9.3" text-anchor="start" font-weight="normal" fill="#1a1a1a" stroke="#1a1a1a" stroke-width="0.38" textLength="54.60" lengthAdjust="spacingAndGlyphs" >Days post-xenograft</text>
<text transform="translate(76.70,374.40) rotate(-90)" x="0" y="0" font-size="9.8" text-anchor="middle" font-weight="normal" fill="#1a1a1a" stroke="#1a1a1a" stroke-width="0.3" textLength="55.90" lengthAdjust="spacingAndGlyphs">Tumour-free survival</text>
<polyline points="100.00,339.20 142.96,339.20 142.96,386.20 161.84,386.20 161.84,409.70" fill="none" stroke="#25448a" stroke-width="1.5" stroke-linejoin="miter" stroke-linecap="butt"/>
<polyline points="100.00,339.20 161.84,339.20 161.84,386.20 189.94,386.20 189.94,409.70" fill="none" stroke="#b0002c" stroke-width="1.5" stroke-linejoin="miter" stroke-linecap="butt"/>
<line x1="172.30" y1="340.20" x2="181.60" y2="340.20" stroke="#b0002c" stroke-width="1.5"/>
<line x1="172.30" y1="351.70" x2="181.60" y2="351.70" stroke="#25448a" stroke-width="1.5"/>
<text x="184.80" y="342.20" font-size="5.7" text-anchor="start" font-weight="normal" fill="#333" stroke="#333" stroke-width="0.1" textLength="35.20" lengthAdjust="spacingAndGlyphs" >Vechicle (n=3)</text>
<text x="184.80" y="353.70" font-size="5.7" text-anchor="start" font-weight="normal" fill="#333" stroke="#333" stroke-width="0.1" textLength="43.30" lengthAdjust="spacingAndGlyphs" >A-1331852 (n=3)</text>
<line x1="285.60" y1="337.00" x2="285.60" y2="410.30" stroke="#000" stroke-width="1.3"/>
<line x1="285.60" y1="409.70" x2="347.60" y2="409.70" stroke="#000" stroke-width="1.3"/>
<line x1="282.20" y1="339.80" x2="285.60" y2="339.80" stroke="#000" stroke-width="1.1"/>
<text x="279.40" y="341.90" font-size="6.5" text-anchor="end" font-weight="normal" fill="#1a1a1a" stroke="#1a1a1a" stroke-width="0.2" >1.5</text>
<line x1="282.20" y1="363.10" x2="285.60" y2="363.10" stroke="#000" stroke-width="1.1"/>
<text x="279.40" y="365.20" font-size="6.5" text-anchor="end" font-weight="normal" fill="#1a1a1a" stroke="#1a1a1a" stroke-width="0.2" >1.0</text>
<line x1="282.20" y1="386.40" x2="285.60" y2="386.40" stroke="#000" stroke-width="1.1"/>
<text x="279.40" y="388.50" font-size="6.5" text-anchor="end" font-weight="normal" fill="#1a1a1a" stroke="#1a1a1a" stroke-width="0.2" >0.5</text>
<line x1="282.20" y1="409.70" x2="285.60" y2="409.70" stroke="#000" stroke-width="1.1"/>
<text x="279.40" y="411.80" font-size="6.5" text-anchor="end" font-weight="normal" fill="#1a1a1a" stroke="#1a1a1a" stroke-width="0.2" >0.0</text>
<line x1="300.80" y1="409.70" x2="300.80" y2="412.90" stroke="#000" stroke-width="1.1"/>
<line x1="332.00" y1="409.70" x2="332.00" y2="412.90" stroke="#000" stroke-width="1.1"/>
<text x="290.40" y="422.20" font-size="6.6" text-anchor="start" font-weight="normal" fill="#1a1a1a" stroke="#1a1a1a" stroke-width="0.1" textLength="21.00" lengthAdjust="spacingAndGlyphs" >Vehicle</text>
<text x="315.00" y="422.20" font-size="6.6" text-anchor="start" font-weight="normal" fill="#1a1a1a" stroke="#1a1a1a" stroke-width="0.1" textLength="34.00" lengthAdjust="spacingAndGlyphs" >A-1331852</text>
<text transform="translate(266.20,374.80) rotate(-90)" x="0" y="0" font-size="9.7" text-anchor="middle" font-weight="normal" fill="#1a1a1a" stroke="#1a1a1a" stroke-width="0.28" textLength="30.40" lengthAdjust="spacingAndGlyphs">Weight (g)</text>
<line x1="290.70" y1="364.00" x2="311.60" y2="364.00" stroke="#b0002a" stroke-width="1.05"/>
<line x1="295.10" y1="357.70" x2="306.40" y2="357.70" stroke="#b0002a" stroke-width="1.0"/>
<line x1="295.10" y1="369.30" x2="306.40" y2="369.30" stroke="#b0002a" stroke-width="1.0"/>
<line x1="300.80" y1="357.70" x2="300.80" y2="369.30" stroke="#b0002a" stroke-width="1.0"/>
<circle cx="297.30" cy="357.70" r="1.3" fill="#b0002a"/>
<circle cx="304.30" cy="358.20" r="1.3" fill="#b0002a"/>
<circle cx="300.80" cy="375.00" r="1.3" fill="#b0002a"/>
<line x1="321.90" y1="355.90" x2="342.70" y2="355.90" stroke="#16367a" stroke-width="1.05"/>
<line x1="326.60" y1="355.20" x2="337.90" y2="355.20" stroke="#16367a" stroke-width="1.0"/>
<line x1="326.60" y1="356.60" x2="337.90" y2="356.60" stroke="#16367a" stroke-width="1.0"/>
<line x1="332.00" y1="355.20" x2="332.00" y2="356.60" stroke="#16367a" stroke-width="1.0"/>
<rect x="324.95" y="355.35" width="2.5" height="2.5" fill="#16367a"/>
<rect x="330.75" y="353.75" width="2.5" height="2.5" fill="#16367a"/>
<rect x="336.55" y="355.35" width="2.5" height="2.5" fill="#16367a"/>
<line x1="403.20" y1="336.70" x2="403.20" y2="410.30" stroke="#000" stroke-width="1.3"/>
<line x1="403.20" y1="409.70" x2="509.20" y2="409.70" stroke="#000" stroke-width="1.3"/>
<line x1="400.50" y1="339.80" x2="403.20" y2="339.80" stroke="#000" stroke-width="1.1"/>
<text x="373.00" y="342.20" font-size="6.8" text-anchor="start" font-weight="normal" fill="#1a1a1a" stroke="#1a1a1a" stroke-width="0.2" textLength="21.60" lengthAdjust="spacingAndGlyphs" >2.5×10</text>
<text x="394.60" y="339.10" font-size="3.9" text-anchor="start" font-weight="normal" fill="#1a1a1a" stroke="#1a1a1a" stroke-width="0.08" >6</text>
<line x1="400.50" y1="353.81" x2="403.20" y2="353.81" stroke="#000" stroke-width="1.1"/>
<text x="373.00" y="356.21" font-size="6.8" text-anchor="start" font-weight="normal" fill="#1a1a1a" stroke="#1a1a1a" stroke-width="0.2" textLength="21.60" lengthAdjust="spacingAndGlyphs" >2.0×10</text>
<text x="394.60" y="353.11" font-size="3.9" text-anchor="start" font-weight="normal" fill="#1a1a1a" stroke="#1a1a1a" stroke-width="0.08" >6</text>
<line x1="400.50" y1="367.82" x2="403.20" y2="367.82" stroke="#000" stroke-width="1.1"/>
<text x="373.00" y="370.22" font-size="6.8" text-anchor="start" font-weight="normal" fill="#1a1a1a" stroke="#1a1a1a" stroke-width="0.2" textLength="21.60" lengthAdjust="spacingAndGlyphs" >1.5×10</text>
<text x="394.60" y="367.12" font-size="3.9" text-anchor="start" font-weight="normal" fill="#1a1a1a" stroke="#1a1a1a" stroke-width="0.08" >6</text>
<line x1="400.50" y1="381.83" x2="403.20" y2="381.83" stroke="#000" stroke-width="1.1"/>
<text x="373.00" y="384.23" font-size="6.8" text-anchor="start" font-weight="normal" fill="#1a1a1a" stroke="#1a1a1a" stroke-width="0.2" textLength="21.60" lengthAdjust="spacingAndGlyphs" >1.0×10</text>
<text x="394.60" y="381.13" font-size="3.9" text-anchor="start" font-weight="normal" fill="#1a1a1a" stroke="#1a1a1a" stroke-width="0.08" >6</text>
<line x1="400.50" y1="395.84" x2="403.20" y2="395.84" stroke="#000" stroke-width="1.1"/>
<text x="373.00" y="398.24" font-size="6.8" text-anchor="start" font-weight="normal" fill="#1a1a1a" stroke="#1a1a1a" stroke-width="0.2" textLength="21.60" lengthAdjust="spacingAndGlyphs" >5.0×10</text>
<text x="394.60" y="395.14" font-size="3.9" text-anchor="start" font-weight="normal" fill="#1a1a1a" stroke="#1a1a1a" stroke-width="0.08" >5</text>
<line x1="400.50" y1="409.85" x2="403.20" y2="409.85" stroke="#000" stroke-width="1.1"/>
<text x="397.00" y="412.25" font-size="6.8" text-anchor="end" font-weight="normal" fill="#1a1a1a" stroke="#1a1a1a" stroke-width="0.2" >0.0</text>
<line x1="420.80" y1="409.70" x2="420.80" y2="412.90" stroke="#000" stroke-width="1.1"/>
<line x1="455.90" y1="409.70" x2="455.90" y2="412.90" stroke="#000" stroke-width="1.1"/>
<line x1="491.20" y1="409.70" x2="491.20" y2="412.90" stroke="#000" stroke-width="1.1"/>
<text x="420.70" y="422.45" font-size="6.9" text-anchor="middle" font-weight="normal" fill="#1a1a1a" stroke="#1a1a1a" stroke-width="0.1" textLength="12.20" lengthAdjust="spacingAndGlyphs" >Pre-</text>
<text x="420.80" y="430.15" font-size="6.9" text-anchor="middle" font-weight="normal" fill="#1a1a1a" stroke="#1a1a1a" stroke-width="0.1" textLength="27.40" lengthAdjust="spacingAndGlyphs" >treatment</text>
<text x="456.00" y="422.45" font-size="6.9" text-anchor="middle" font-weight="normal" fill="#1a1a1a" stroke="#1a1a1a" stroke-width="0.1" textLength="14.60" lengthAdjust="spacingAndGlyphs" >Post-</text>
<text x="456.15" y="430.15" font-size="6.9" text-anchor="middle" font-weight="normal" fill="#1a1a1a" stroke="#1a1a1a" stroke-width="0.1" textLength="27.40" lengthAdjust="spacingAndGlyphs" >treatment</text>
<text x="491.40" y="422.45" font-size="6.9" text-anchor="middle" font-weight="normal" fill="#1a1a1a" stroke="#1a1a1a" stroke-width="0.1" textLength="17.90" lengthAdjust="spacingAndGlyphs" >Death</text>
<text transform="translate(367.00,373.35) rotate(-90)" x="0" y="0" font-size="9.4" text-anchor="middle" font-weight="normal" fill="#1a1a1a" stroke="#1a1a1a" stroke-width="0.28" textLength="50.60" lengthAdjust="spacingAndGlyphs">Cells per µL blood</text>
<circle cx="478.30" cy="340.00" r="2.55" fill="#b0002a"/>
<rect x="475.85" y="348.05" width="4.9" height="4.9" fill="#16367a"/>
<text x="484.00" y="341.90" font-size="5.0" text-anchor="start" font-weight="normal" fill="#333" stroke="#333" stroke-width="0.2" textLength="17.20" lengthAdjust="spacingAndGlyphs" >Vehicle</text>
<text x="484.00" y="352.40" font-size="5.0" text-anchor="start" font-weight="normal" fill="#333" stroke="#333" stroke-width="0.2" textLength="31.40" lengthAdjust="spacingAndGlyphs" >A-13318522</text>
<text x="420.50" y="379.60" font-size="7.0" text-anchor="middle" font-weight="normal" fill="#1a1a1a" stroke="#1a1a1a" stroke-width="0.2" textLength="9.40" lengthAdjust="spacingAndGlyphs" >ND</text>
<text x="457.00" y="379.60" font-size="7.0" text-anchor="middle" font-weight="normal" fill="#1a1a1a" stroke="#1a1a1a" stroke-width="0.2" textLength="9.40" lengthAdjust="spacingAndGlyphs" >ND</text>
<line x1="480.00" y1="377.00" x2="489.20" y2="377.00" stroke="#b0002a" stroke-width="1.2"/>
<line x1="482.40" y1="373.80" x2="486.80" y2="373.80" stroke="#b0002a" stroke-width="1.1"/>
<line x1="482.40" y1="380.00" x2="486.80" y2="380.00" stroke="#b0002a" stroke-width="1.1"/>
<line x1="484.60" y1="373.80" x2="484.60" y2="380.00" stroke="#b0002a" stroke-width="1.1"/>
<circle cx="482.00" cy="375.00" r="1.3" fill="#b0002a"/>
<circle cx="487.50" cy="375.50" r="1.3" fill="#b0002a"/>
<circle cx="484.50" cy="380.70" r="1.3" fill="#b0002a"/>
<line x1="493.40" y1="378.70" x2="502.60" y2="378.70" stroke="#16367a" stroke-width="1.2"/>
<line x1="495.80" y1="373.70" x2="500.20" y2="373.70" stroke="#16367a" stroke-width="1.1"/>
<line x1="495.80" y1="383.70" x2="500.20" y2="383.70" stroke="#16367a" stroke-width="1.1"/>
<line x1="498.00" y1="373.70" x2="498.00" y2="383.70" stroke="#16367a" stroke-width="1.1"/>
<rect x="493.75" y="371.25" width="2.5" height="2.5" fill="#16367a"/>
<rect x="499.95" y="373.75" width="2.5" height="2.5" fill="#16367a"/>
<rect x="496.75" y="388.25" width="2.5" height="2.5" fill="#16367a"/>
<text x="7.85" y="470.60" font-size="12.8" text-anchor="start" font-weight="bold" fill="#000" stroke="#000" stroke-width="0.35" >D</text>
<text x="19.60" y="522.50" font-size="9.2" text-anchor="start" font-weight="normal" fill="#1a1a1a" stroke="#1a1a1a" stroke-width="0.1" textLength="42.80" lengthAdjust="spacingAndGlyphs" >MEC04-IP</text>
<rect x="107.67" y="484.00" width="6.74" height="70.40" fill="#c6c9dc"/>
<text transform="translate(112.40,536.30) rotate(-90)" x="0" y="0" font-size="5.4" text-anchor="middle" font-weight="normal" fill="#4a4a4a" stroke="#4a4a4a" stroke-width="0.12" textLength="23.00" lengthAdjust="spacingAndGlyphs">Treatment</text>
<line x1="100.00" y1="480.80" x2="100.00" y2="555.00" stroke="#000" stroke-width="1.3"/>
<line x1="95.60" y1="554.40" x2="215.40" y2="554.40" stroke="#000" stroke-width="1.3"/>
<line x1="95.60" y1="554.40" x2="100.00" y2="554.40" stroke="#000" stroke-width="1.1"/>
<line x1="95.60" y1="519.20" x2="100.00" y2="519.20" stroke="#000" stroke-width="1.1"/>
<line x1="95.60" y1="484.00" x2="100.00" y2="484.00" stroke="#000" stroke-width="1.1"/>
<line x1="99.80" y1="554.40" x2="99.80" y2="557.60" stroke="#000" stroke-width="1.1"/>
<line x1="107.67" y1="554.40" x2="107.67" y2="557.60" stroke="#000" stroke-width="1.1"/>
<line x1="114.41" y1="554.40" x2="114.41" y2="557.60" stroke="#000" stroke-width="1.1"/>
<line x1="122.28" y1="554.40" x2="122.28" y2="557.60" stroke="#000" stroke-width="1.1"/>
<line x1="144.76" y1="554.40" x2="144.76" y2="557.60" stroke="#000" stroke-width="1.1"/>
<line x1="167.24" y1="554.40" x2="167.24" y2="557.60" stroke="#000" stroke-width="1.1"/>
<line x1="189.72" y1="554.40" x2="189.72" y2="557.60" stroke="#000" stroke-width="1.1"/>
<line x1="212.20" y1="554.40" x2="212.20" y2="557.60" stroke="#000" stroke-width="1.1"/>
<text x="93.40" y="556.40" font-size="6.5" text-anchor="end" font-weight="normal" fill="#1a1a1a" stroke="#1a1a1a" stroke-width="0.2" >0</text>
<text x="93.40" y="521.20" font-size="6.5" text-anchor="end" font-weight="normal" fill="#1a1a1a" stroke="#1a1a1a" stroke-width="0.2" >50</text>
<text x="93.40" y="486.00" font-size="6.5" text-anchor="end" font-weight="normal" fill="#1a1a1a" stroke="#1a1a1a" stroke-width="0.2" >100</text>
<text x="99.90" y="566.80" font-size="6.5" text-anchor="middle" font-weight="normal" fill="#1a1a1a" stroke="#1a1a1a" stroke-width="0.2" >0</text>
<text x="122.38" y="566.80" font-size="6.5" text-anchor="middle" font-weight="normal" fill="#1a1a1a" stroke="#1a1a1a" stroke-width="0.2" >20</text>
<text x="144.86" y="566.80" font-size="6.5" text-anchor="middle" font-weight="normal" fill="#1a1a1a" stroke="#1a1a1a" stroke-width="0.2" >40</text>
<text x="167.34" y="566.80" font-size="6.5" text-anchor="middle" font-weight="normal" fill="#1a1a1a" stroke="#1a1a1a" stroke-width="0.2" >60</text>
<text x="189.82" y="566.80" font-size="6.5" text-anchor="middle" font-weight="normal" fill="#1a1a1a" stroke="#1a1a1a" stroke-width="0.2" >80</text>
<text x="212.30" y="566.80" font-size="6.5" text-anchor="middle" font-weight="normal" fill="#1a1a1a" stroke="#1a1a1a" stroke-width="0.2" >100</text>
<text x="107.97" y="562.90" font-size="4.5" text-anchor="middle" font-weight="normal" fill="#1a1a1a" stroke="#1a1a1a" stroke-width="0.2" >7</text>
<text x="114.81" y="562.90" font-size="4.5" text-anchor="middle" font-weight="normal" fill="#1a1a1a" stroke="#1a1a1a" stroke-width="0.2" textLength="4.60" lengthAdjust="spacingAndGlyphs" >13</text>
<text x="128.50" y="579.60" font-size="9.3" text-anchor="start" font-weight="normal" fill="#1a1a1a" stroke="#1a1a1a" stroke-width="0.38" textLength="54.60" lengthAdjust="spacingAndGlyphs" >Days post-xenograft</text>
<text transform="translate(76.70,519.20) rotate(-90)" x="0" y="0" font-size="9.8" text-anchor="middle" font-weight="normal" fill="#1a1a1a" stroke="#1a1a1a" stroke-width="0.3" textLength="55.90" lengthAdjust="spacingAndGlyphs">Tumour-free survival</text>
<polyline points="100.00,484.00 137.23,484.00 137.23,554.40" fill="none" stroke="#25448a" stroke-width="1.5" stroke-linejoin="miter" stroke-linecap="butt"/>
<polyline points="100.00,484.00 135.32,484.00 135.32,507.46 144.31,507.46 144.31,554.40" fill="none" stroke="#b0002c" stroke-width="1.5" stroke-linejoin="miter" stroke-linecap="butt"/>
<line x1="172.30" y1="480.00" x2="181.60" y2="480.00" stroke="#b0002c" stroke-width="1.5"/>
<line x1="172.30" y1="491.50" x2="181.60" y2="491.50" stroke="#25448a" stroke-width="1.5"/>
<text x="184.80" y="482.00" font-size="5.7" text-anchor="start" font-weight="normal" fill="#333" stroke="#333" stroke-width="0.1" textLength="35.20" lengthAdjust="spacingAndGlyphs" >Vechicle (n=3)</text>
<text x="184.80" y="493.50" font-size="5.7" text-anchor="start" font-weight="normal" fill="#333" stroke="#333" stroke-width="0.1" textLength="43.30" lengthAdjust="spacingAndGlyphs" >A-1331852 (n=3)</text>
<line x1="285.60" y1="481.80" x2="285.60" y2="555.00" stroke="#000" stroke-width="1.3"/>
<line x1="285.60" y1="554.40" x2="347.60" y2="554.40" stroke="#000" stroke-width="1.3"/>
<line x1="282.20" y1="484.60" x2="285.60" y2="484.60" stroke="#000" stroke-width="1.1"/>
<text x="279.40" y="486.70" font-size="6.5" text-anchor="end" font-weight="normal" fill="#1a1a1a" stroke="#1a1a1a" stroke-width="0.2" >1.0</text>
<line x1="282.20" y1="498.56" x2="285.60" y2="498.56" stroke="#000" stroke-width="1.1"/>
<text x="279.40" y="500.66" font-size="6.5" text-anchor="end" font-weight="normal" fill="#1a1a1a" stroke="#1a1a1a" stroke-width="0.2" >0.8</text>
<line x1="282.20" y1="512.52" x2="285.60" y2="512.52" stroke="#000" stroke-width="1.1"/>
<text x="279.40" y="514.62" font-size="6.5" text-anchor="end" font-weight="normal" fill="#1a1a1a" stroke="#1a1a1a" stroke-width="0.2" >0.6</text>
<line x1="282.20" y1="526.48" x2="285.60" y2="526.48" stroke="#000" stroke-width="1.1"/>
<text x="279.40" y="528.58" font-size="6.5" text-anchor="end" font-weight="normal" fill="#1a1a1a" stroke="#1a1a1a" stroke-width="0.2" >0.4</text>
<line x1="282.20" y1="540.44" x2="285.60" y2="540.44" stroke="#000" stroke-width="1.1"/>
<text x="279.40" y="542.54" font-size="6.5" text-anchor="end" font-weight="normal" fill="#1a1a1a" stroke="#1a1a1a" stroke-width="0.2" >0.2</text>
<line x1="282.20" y1="554.40" x2="285.60" y2="554.40" stroke="#000" stroke-width="1.1"/>
<text x="279.40" y="556.50" font-size="6.5" text-anchor="end" font-weight="normal" fill="#1a1a1a" stroke="#1a1a1a" stroke-width="0.2" >0.0</text>
<line x1="300.80" y1="554.40" x2="300.80" y2="557.60" stroke="#000" stroke-width="1.1"/>
<line x1="332.00" y1="554.40" x2="332.00" y2="557.60" stroke="#000" stroke-width="1.1"/>
<text x="290.40" y="566.90" font-size="6.6" text-anchor="start" font-weight="normal" fill="#1a1a1a" stroke="#1a1a1a" stroke-width="0.1" textLength="21.00" lengthAdjust="spacingAndGlyphs" >Vehicle</text>
<text x="315.00" y="566.90" font-size="6.6" text-anchor="start" font-weight="normal" fill="#1a1a1a" stroke="#1a1a1a" stroke-width="0.1" textLength="34.00" lengthAdjust="spacingAndGlyphs" >A-1331852</text>
<text transform="translate(266.20,517.70) rotate(-90)" x="0" y="0" font-size="9.7" text-anchor="middle" font-weight="normal" fill="#1a1a1a" stroke="#1a1a1a" stroke-width="0.28" textLength="30.40" lengthAdjust="spacingAndGlyphs">Weight (g)</text>
<line x1="290.70" y1="506.20" x2="311.60" y2="506.20" stroke="#b0002a" stroke-width="1.05"/>
<line x1="295.10" y1="500.00" x2="306.40" y2="500.00" stroke="#b0002a" stroke-width="1.0"/>
<line x1="295.10" y1="512.70" x2="306.40" y2="512.70" stroke="#b0002a" stroke-width="1.0"/>
<line x1="300.80" y1="500.00" x2="300.80" y2="512.70" stroke="#b0002a" stroke-width="1.0"/>
<circle cx="300.80" cy="494.20" r="1.3" fill="#b0002a"/>
<circle cx="300.80" cy="509.20" r="1.3" fill="#b0002a"/>
<circle cx="300.80" cy="515.40" r="1.3" fill="#b0002a"/>
<line x1="321.90" y1="515.40" x2="342.70" y2="515.40" stroke="#16367a" stroke-width="1.05"/>
<line x1="326.60" y1="505.50" x2="337.90" y2="505.50" stroke="#16367a" stroke-width="1.0"/>
<line x1="326.60" y1="525.80" x2="337.90" y2="525.80" stroke="#16367a" stroke-width="1.0"/>
<line x1="332.00" y1="505.50" x2="332.00" y2="525.80" stroke="#16367a" stroke-width="1.0"/>
<rect x="330.75" y="495.25" width="2.5" height="2.5" fill="#16367a"/>
<rect x="330.75" y="519.95" width="2.5" height="2.5" fill="#16367a"/>
<rect x="330.75" y="528.05" width="2.5" height="2.5" fill="#16367a"/>
<line x1="403.20" y1="481.50" x2="403.20" y2="555.00" stroke="#000" stroke-width="1.3"/>
<line x1="403.20" y1="554.40" x2="509.20" y2="554.40" stroke="#000" stroke-width="1.3"/>
<line x1="400.50" y1="484.60" x2="403.20" y2="484.60" stroke="#000" stroke-width="1.1"/>
<text x="373.00" y="487.00" font-size="6.8" text-anchor="start" font-weight="normal" fill="#1a1a1a" stroke="#1a1a1a" stroke-width="0.2" textLength="21.60" lengthAdjust="spacingAndGlyphs" >2.5×10</text>
<text x="394.60" y="483.90" font-size="3.9" text-anchor="start" font-weight="normal" fill="#1a1a1a" stroke="#1a1a1a" stroke-width="0.08" >6</text>
<line x1="400.50" y1="498.59" x2="403.20" y2="498.59" stroke="#000" stroke-width="1.1"/>
<text x="373.00" y="500.99" font-size="6.8" text-anchor="start" font-weight="normal" fill="#1a1a1a" stroke="#1a1a1a" stroke-width="0.2" textLength="21.60" lengthAdjust="spacingAndGlyphs" >2.0×10</text>
<text x="394.60" y="497.89" font-size="3.9" text-anchor="start" font-weight="normal" fill="#1a1a1a" stroke="#1a1a1a" stroke-width="0.08" >6</text>
<line x1="400.50" y1="512.58" x2="403.20" y2="512.58" stroke="#000" stroke-width="1.1"/>
<text x="373.00" y="514.98" font-size="6.8" text-anchor="start" font-weight="normal" fill="#1a1a1a" stroke="#1a1a1a" stroke-width="0.2" textLength="21.60" lengthAdjust="spacingAndGlyphs" >1.5×10</text>
<text x="394.60" y="511.88" font-size="3.9" text-anchor="start" font-weight="normal" fill="#1a1a1a" stroke="#1a1a1a" stroke-width="0.08" >6</text>
<line x1="400.50" y1="526.57" x2="403.20" y2="526.57" stroke="#000" stroke-width="1.1"/>
<text x="373.00" y="528.97" font-size="6.8" text-anchor="start" font-weight="normal" fill="#1a1a1a" stroke="#1a1a1a" stroke-width="0.2" textLength="21.60" lengthAdjust="spacingAndGlyphs" >1.0×10</text>
<text x="394.60" y="525.87" font-size="3.9" text-anchor="start" font-weight="normal" fill="#1a1a1a" stroke="#1a1a1a" stroke-width="0.08" >6</text>
<line x1="400.50" y1="540.56" x2="403.20" y2="540.56" stroke="#000" stroke-width="1.1"/>
<text x="373.00" y="542.96" font-size="6.8" text-anchor="start" font-weight="normal" fill="#1a1a1a" stroke="#1a1a1a" stroke-width="0.2" textLength="21.60" lengthAdjust="spacingAndGlyphs" >5.0×10</text>
<text x="394.60" y="539.86" font-size="3.9" text-anchor="start" font-weight="normal" fill="#1a1a1a" stroke="#1a1a1a" stroke-width="0.08" >5</text>
<line x1="400.50" y1="554.55" x2="403.20" y2="554.55" stroke="#000" stroke-width="1.1"/>
<text x="397.00" y="556.95" font-size="6.8" text-anchor="end" font-weight="normal" fill="#1a1a1a" stroke="#1a1a1a" stroke-width="0.2" >0.0</text>
<line x1="420.80" y1="554.40" x2="420.80" y2="557.60" stroke="#000" stroke-width="1.1"/>
<line x1="455.90" y1="554.40" x2="455.90" y2="557.60" stroke="#000" stroke-width="1.1"/>
<line x1="491.20" y1="554.40" x2="491.20" y2="557.60" stroke="#000" stroke-width="1.1"/>
<text x="420.70" y="567.15" font-size="6.9" text-anchor="middle" font-weight="normal" fill="#1a1a1a" stroke="#1a1a1a" stroke-width="0.1" textLength="12.20" lengthAdjust="spacingAndGlyphs" >Pre-</text>
<text x="420.80" y="574.85" font-size="6.9" text-anchor="middle" font-weight="normal" fill="#1a1a1a" stroke="#1a1a1a" stroke-width="0.1" textLength="27.40" lengthAdjust="spacingAndGlyphs" >treatment</text>
<text x="456.00" y="567.15" font-size="6.9" text-anchor="middle" font-weight="normal" fill="#1a1a1a" stroke="#1a1a1a" stroke-width="0.1" textLength="14.60" lengthAdjust="spacingAndGlyphs" >Post-</text>
<text x="456.15" y="574.85" font-size="6.9" text-anchor="middle" font-weight="normal" fill="#1a1a1a" stroke="#1a1a1a" stroke-width="0.1" textLength="27.40" lengthAdjust="spacingAndGlyphs" >treatment</text>
<text x="491.40" y="567.15" font-size="6.9" text-anchor="middle" font-weight="normal" fill="#1a1a1a" stroke="#1a1a1a" stroke-width="0.1" textLength="17.90" lengthAdjust="spacingAndGlyphs" >Death</text>
<text transform="translate(367.00,518.10) rotate(-90)" x="0" y="0" font-size="9.4" text-anchor="middle" font-weight="normal" fill="#1a1a1a" stroke="#1a1a1a" stroke-width="0.28" textLength="50.60" lengthAdjust="spacingAndGlyphs">Cells per µL blood</text>
<circle cx="478.60" cy="483.50" r="2.55" fill="#b0002a"/>
<rect x="476.15" y="492.65" width="4.9" height="4.9" fill="#16367a"/>
<text x="484.00" y="485.40" font-size="5.0" text-anchor="start" font-weight="normal" fill="#333" stroke="#333" stroke-width="0.2" textLength="17.20" lengthAdjust="spacingAndGlyphs" >Vehicle</text>
<text x="484.00" y="497.00" font-size="5.0" text-anchor="start" font-weight="normal" fill="#333" stroke="#333" stroke-width="0.2" textLength="28.60" lengthAdjust="spacingAndGlyphs" >A-1331852</text>
<line x1="409.60" y1="518.20" x2="418.80" y2="518.20" stroke="#b0002a" stroke-width="1.2"/>
<line x1="412.00" y1="515.90" x2="416.40" y2="515.90" stroke="#b0002a" stroke-width="1.1"/>
<line x1="412.00" y1="520.50" x2="416.40" y2="520.50" stroke="#b0002a" stroke-width="1.1"/>
<line x1="414.20" y1="515.90" x2="414.20" y2="520.50" stroke="#b0002a" stroke-width="1.1"/>
<circle cx="414.20" cy="512.60" r="1.3" fill="#b0002a"/>
<circle cx="414.20" cy="519.30" r="1.3" fill="#b0002a"/>
<circle cx="414.20" cy="522.80" r="1.3" fill="#b0002a"/>
<line x1="423.20" y1="515.90" x2="432.40" y2="515.90" stroke="#16367a" stroke-width="1.2"/>
<line x1="425.60" y1="509.60" x2="430.00" y2="509.60" stroke="#16367a" stroke-width="1.1"/>
<line x1="425.60" y1="522.80" x2="430.00" y2="522.80" stroke="#16367a" stroke-width="1.1"/>
<line x1="427.80" y1="509.60" x2="427.80" y2="522.80" stroke="#16367a" stroke-width="1.1"/>
<rect x="423.35" y="508.85" width="2.5" height="2.5" fill="#16367a"/>
<rect x="429.55" y="509.55" width="2.5" height="2.5" fill="#16367a"/>
<rect x="426.55" y="526.15" width="2.5" height="2.5" fill="#16367a"/>
<line x1="445.10" y1="503.50" x2="454.30" y2="503.50" stroke="#b0002a" stroke-width="1.2"/>
<line x1="447.50" y1="503.20" x2="451.90" y2="503.20" stroke="#b0002a" stroke-width="1.1"/>
<line x1="447.50" y1="503.90" x2="451.90" y2="503.90" stroke="#b0002a" stroke-width="1.1"/>
<line x1="449.70" y1="503.20" x2="449.70" y2="503.90" stroke="#b0002a" stroke-width="1.1"/>
<circle cx="446.30" cy="503.20" r="1.3" fill="#b0002a"/>
<circle cx="449.70" cy="503.20" r="1.3" fill="#b0002a"/>
<circle cx="453.20" cy="503.90" r="1.3" fill="#b0002a"/>
<line x1="456.90" y1="542.20" x2="466.10" y2="542.20" stroke="#16367a" stroke-width="1.2"/>
<line x1="459.30" y1="541.20" x2="463.70" y2="541.20" stroke="#16367a" stroke-width="1.1"/>
<line x1="459.30" y1="543.20" x2="463.70" y2="543.20" stroke="#16367a" stroke-width="1.1"/>
<line x1="461.50" y1="541.20" x2="461.50" y2="543.20" stroke="#16367a" stroke-width="1.1"/>
<rect x="458.45" y="538.85" width="2.5" height="2.5" fill="#16367a"/>
<rect x="458.45" y="543.05" width="2.5" height="2.5" fill="#16367a"/>
<rect x="463.05" y="541.15" width="2.5" height="2.5" fill="#16367a"/>
<rect x="460.75" y="540.75" width="2.5" height="2.5" fill="#16367a"/>
<line x1="480.40" y1="529.70" x2="489.60" y2="529.70" stroke="#b0002a" stroke-width="1.2"/>
<line x1="482.80" y1="524.90" x2="487.20" y2="524.90" stroke="#b0002a" stroke-width="1.1"/>
<line x1="482.80" y1="533.70" x2="487.20" y2="533.70" stroke="#b0002a" stroke-width="1.1"/>
<line x1="485.00" y1="524.90" x2="485.00" y2="533.70" stroke="#b0002a" stroke-width="1.1"/>
<circle cx="485.00" cy="524.70" r="1.3" fill="#b0002a"/>
<circle cx="485.00" cy="533.90" r="1.3" fill="#b0002a"/>
<circle cx="485.00" cy="529.70" r="1.3" fill="#b0002a"/>
<line x1="493.20" y1="532.00" x2="502.40" y2="532.00" stroke="#16367a" stroke-width="1.2"/>
<line x1="495.60" y1="531.00" x2="500.00" y2="531.00" stroke="#16367a" stroke-width="1.1"/>
<line x1="495.60" y1="533.00" x2="500.00" y2="533.00" stroke="#16367a" stroke-width="1.1"/>
<line x1="497.80" y1="531.00" x2="497.80" y2="533.00" stroke="#16367a" stroke-width="1.1"/>
<rect x="493.55" y="529.15" width="2.5" height="2.5" fill="#16367a"/>
<rect x="496.55" y="530.35" width="2.5" height="2.5" fill="#16367a"/>
<rect x="499.95" y="531.45" width="2.5" height="2.5" fill="#16367a"/>
<polyline points="449.30,496.80 449.30,492.50 463.30,492.50 463.30,496.80" fill="none" stroke="#222" stroke-width="1.1"/>
<ellipse cx="453.75" cy="488.70" rx="0.95" ry="0.8" fill="#222"/>
<ellipse cx="456.30" cy="488.70" rx="0.95" ry="0.8" fill="#222"/>
<ellipse cx="458.85" cy="488.70" rx="0.95" ry="0.8" fill="#222"/>
<path d="M0 0H520V589H0Z M1.1 1.1V587.6H518.6V1.1Z" fill="#000" fill-rule="evenodd"/>
</svg>
</body></html>
